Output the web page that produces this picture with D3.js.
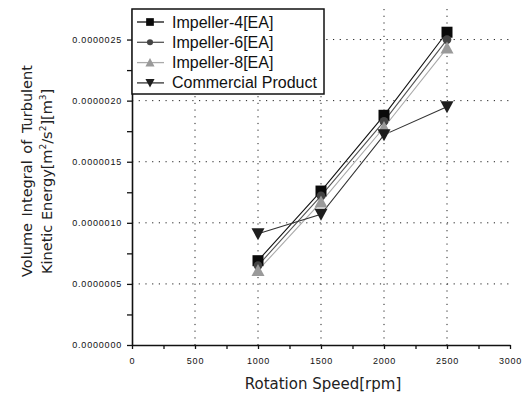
<!DOCTYPE html>
<html>
<head>
<meta charset="utf-8">
<script src="https://cdn.jsdelivr.net/npm/d3@7"></script>
<style>
  body { margin: 0; background: #fff; }
  svg { display: block; }
  .tick text { font-family: "Liberation Sans", Arial, sans-serif; font-size: 9px; letter-spacing: 0.8px; fill: #111; }
</style>
</head>
<body>
<div id="chart"></div>
<script>
// chart data
const speeds = [1000, 1500, 2000, 2500];
const seriesNames = ['Impeller-4[EA]', 'Impeller-6[EA]', 'Impeller-8[EA]', 'Commercial Product'];
const impeller4 = [0.69e-6, 1.26e-6, 1.88e-6, 2.56e-6];
const impeller6 = [0.65e-6, 1.22e-6, 1.83e-6, 2.50e-6];
const impeller8 = [0.61e-6, 1.17e-6, 1.78e-6, 2.43e-6];
const commercial = [0.91e-6, 1.07e-6, 1.72e-6, 1.95e-6];
const xTicks = [0, 500, 1000, 1500, 2000, 2500, 3000];
const yTicks = [0, 0.5e-6, 1.0e-6, 1.5e-6, 2.0e-6, 2.5e-6];

const width = 528, height = 398;
const margin = { top: 9, right: 18, bottom: 53, left: 132 };
const w = width - margin.left - margin.right;
const h = height - margin.top - margin.bottom;

const svg = d3.select('#chart').append('svg')
    .attr('width', width)
    .attr('height', height);

const g = svg.append('g')
    .attr('transform', `translate(${margin.left},${margin.top})`);

const x = d3.scaleLinear().domain([0, 3000]).range([0, w]);
const y = d3.scaleLinear().domain([0, 2.75e-6]).range([h, 0]);

// dotted grid
g.append('g').selectAll('line')
    .data(xTicks.slice(1, -1))
    .join('line')
    .attr('x1', d => x(d)).attr('x2', d => x(d))
    .attr('y1', 0).attr('y2', h)
    .attr('stroke', '#222').attr('stroke-width', 1)
    .attr('stroke-dasharray', '1.2,5.5');
g.append('g').selectAll('line')
    .data(yTicks.slice(1))
    .join('line')
    .attr('x1', 0).attr('x2', w)
    .attr('y1', d => y(d)).attr('y2', d => y(d))
    .attr('stroke', '#222').attr('stroke-width', 1)
    .attr('stroke-dasharray', '1.2,5.5');

// axes (major + minor ticks)
const fmtY = d => d.toFixed(7);
g.append('g')
    .attr('transform', `translate(0,${h})`)
    .call(d3.axisBottom(x).tickValues(d3.range(0, 3001, 250)).tickSize(4).tickSizeOuter(0)
        .tickFormat(d => xTicks.includes(d) ? d : ''))
    .call(a => a.select('.domain').attr('stroke', '#111').attr('stroke-width', 1.6))
    .call(a => a.selectAll('.tick line').attr('stroke', '#111').attr('stroke-width', 1.3))
    .call(a => a.selectAll('.tick text').attr('y', 10).attr('dy', '1.0em'));

g.append('g')
    .call(d3.axisLeft(y).tickValues(d3.range(0, 11).map(i => i * 0.25e-6)).tickSize(5).tickSizeOuter(0)
        .tickFormat((d, i) => i % 2 === 0 ? fmtY(d) : ''))
    .call(a => a.select('.domain').attr('stroke', '#111').attr('stroke-width', 1.6))
    .call(a => a.selectAll('.tick line').attr('stroke', '#111').attr('stroke-width', 1.3))
    .call(a => a.selectAll('.tick text').attr('x', -10));

// series
const series = [
    { name: seriesNames[0], values: impeller4, line: '#111', fill: '#0a0a0a', shape: 'square' },
    { name: seriesNames[1], values: impeller6, line: '#555', fill: '#444', shape: 'circle' },
    { name: seriesNames[2], values: impeller8, line: '#aaa', fill: '#9a9a9a', shape: 'up' },
    { name: seriesNames[3], values: commercial, line: '#333', fill: '#1e1e1e', shape: 'down' }
];

const symbolPath = shape => {
    if (shape === 'square') return 'M-5.5,-5.5H5.5V5.5H-5.5Z';
    if (shape === 'circle') return d3.symbol(d3.symbolCircle, 60)();
    if (shape === 'up') return 'M0,-6.5L6.5,5.5H-6.5Z';
    return 'M-6.5,-5.5H6.5L0,6.5Z';
};

const line = d3.line()
    .x((d, i) => x(speeds[i]))
    .y(d => y(d));

series.forEach(s => {
    g.append('path')
        .datum(s.values)
        .attr('d', line)
        .attr('fill', 'none')
        .attr('stroke', s.line)
        .attr('stroke-width', 1.1);
});
series.forEach(s => {
    g.append('g').selectAll('path')
        .data(s.values)
        .join('path')
        .attr('transform', (d, i) => `translate(${x(speeds[i])},${y(d)})`)
        .attr('d', symbolPath(s.shape))
        .attr('fill', s.fill);
});

// legend
const legend = g.append('g');
legend.append('rect')
    .attr('x', 0).attr('y', 0)
    .attr('width', 192).attr('height', 85)
    .attr('fill', '#fff').attr('stroke', '#111').attr('stroke-width', 1.5);
series.forEach((s, i) => {
    const ly = 13 + i * 20.3;
    const row = legend.append('g').attr('transform', `translate(0,${ly})`);
    row.append('line')
        .attr('x1', 5).attr('x2', 32).attr('y1', 0).attr('y2', 0)
        .attr('stroke', s.line).attr('stroke-width', 1.3);
    row.append('path')
        .attr('transform', 'translate(18,0) scale(0.7)')
        .attr('d', symbolPath(s.shape))
        .attr('fill', s.fill);
    row.append('text')
        .attr('x', 40).attr('y', 5.5)
        .attr('font-family', '"Liberation Sans", Arial, sans-serif')
        .attr('font-size', 16)
        .attr('fill', '#111')
        .text(s.name);
});

// axis titles
svg.append('text')
    .attr('x', margin.left + x(1500) + 2).attr('y', 389)
    .attr('text-anchor', 'middle')
    .attr('font-family', '"DejaVu Sans", Verdana, sans-serif')
    .attr('font-size', 15)
    .attr('fill', '#222')
    .text('Rotation Speed[rpm]');

const yTitle = svg.append('text')
    .attr('transform', 'translate(0,277) rotate(-90)')
    .attr('font-family', '"DejaVu Sans", Verdana, sans-serif')
    .attr('font-size', 14.5)
    .attr('fill', '#222');
yTitle.append('tspan').attr('x', 0).attr('y', 32).attr('word-spacing', 2)
    .text('Volume Integral of Turbulent');
const l2 = yTitle.append('tspan').attr('x', 3).attr('y', 52);
l2.append('tspan').text('Kinetic Energy[m');
l2.append('tspan').attr('dy', -6).attr('font-size', 9).text('2');
l2.append('tspan').attr('dy', 6).text('/s');
l2.append('tspan').attr('dy', -6).attr('font-size', 9).text('2');
l2.append('tspan').attr('dy', 6).text('][m');
l2.append('tspan').attr('dy', -6).attr('font-size', 9).text('3');
l2.append('tspan').attr('dy', 6).text(']');
</script>
</body>
</html>
